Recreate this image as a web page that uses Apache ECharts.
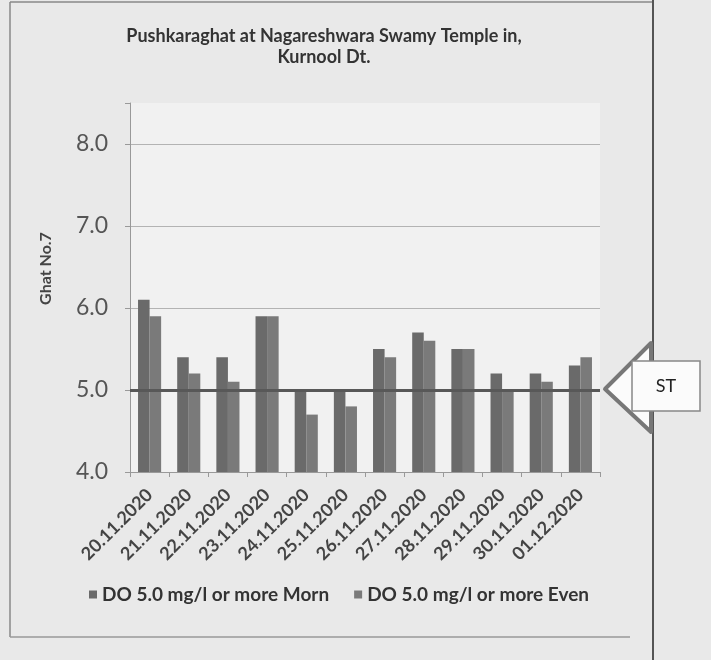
<!DOCTYPE html>
<html>
<head>
    <meta charset="utf-8">
    <title>Ghat No.7</title>
    <script src="https://cdn.jsdelivr.net/npm/echarts@6/dist/echarts.min.js"></script>
    <style>
        body { margin: 0; background: #e9e9e9; }
    </style>
</head>
<body>
    <div id="main" style="width: 711px;height:660px;"></div>
    <script type="text/javascript">
        var myChart = echarts.init(document.getElementById('main'));

        // dates of sampling
        var dates = ['20.11.2020', '21.11.2020', '22.11.2020', '23.11.2020', '24.11.2020', '25.11.2020',
            '26.11.2020', '27.11.2020', '28.11.2020', '29.11.2020', '30.11.2020', '01.12.2020'];
        // DO values (mg/l)
        var morn = [6.1, 5.4, 5.4, 5.9, 5.0, 5.0, 5.5, 5.7, 5.5, 5.2, 5.2, 5.3];
        var even = [5.9, 5.2, 5.1, 5.9, 4.7, 4.8, 5.4, 5.6, 5.5, 5.0, 5.1, 5.4];
        var stLevel = 5.0;
        var yTicks = [4, 5, 6, 7, 8];

        var font = 'Lato, "Open Sans", sans-serif';

        option = {
            backgroundColor: '#e9e9e9',
            textStyle: { fontFamily: font },
            title: {
                text: 'Pushkaraghat at Nagareshwara Swamy Temple in,\nKurnool Dt.',
                left: 319,
                top: 21,
                textAlign: 'center',
                textStyle: {
                    fontSize: 18,
                    fontWeight: 'bold',
                    color: '#333',
                    lineHeight: 21
                }
            },
            legend: {
                left: 84,
                top: 580,
                itemWidth: 8,
                itemHeight: 8,
                itemGap: 25,
                icon: 'rect',
                textStyle: { fontSize: 19, fontWeight: 'bold', color: '#333' },
                data: ['DO 5.0 mg/l or more Morn', 'DO 5.0 mg/l or more Even']
            },
            grid: {
                left: 130,
                right: 111,
                top: 103,
                bottom: 188,
                show: true,
                backgroundColor: '#f1f1f1',
                borderWidth: 0
            },
            xAxis: {
                type: 'category',
                data: dates,
                axisLine: { lineStyle: { color: '#999' } },
                axisTick: { show: true, length: 5, lineStyle: { color: '#999' } },
                axisLabel: {
                    rotate: 45,
                    interval: 0,
                    fontSize: 18,
                    fontWeight: 'bold',
                    color: '#444',
                    margin: 20
                }
            },
            yAxis: {
                type: 'value',
                min: 4,
                max: 8.5,
                interval: 1,
                name: 'Ghat No.7',
                nameLocation: 'middle',
                nameGap: 76,
                nameTextStyle: { fontSize: 16, fontWeight: 'bold', color: '#444', padding: [0, 0, 0, 38] },
                axisLine: { show: true, lineStyle: { color: '#999' } },
                axisTick: { show: true, length: 5, lineStyle: { color: '#999' } },
                axisLabel: {
                    fontSize: 23,
                    color: '#555',
                    margin: 22,
                    formatter: function (v) {
                        return yTicks.indexOf(v) >= 0 ? v.toFixed(1) : '';
                    }
                },
                splitLine: {
                    show: true,
                    showMinLine: false,
                    showMaxLine: false,
                    lineStyle: { color: '#b3b3b3', width: 1 }
                }
            },
            series: [{
                name: 'DO 5.0 mg/l or more Morn',
                type: 'bar',
                data: morn,
                barGap: '0%',
                barCategoryGap: '41%',
                itemStyle: { color: '#6a6a6a' },
                markLine: {
                    symbol: 'none',
                    silent: true,
                    label: { show: false },
                    lineStyle: { color: '#585858', width: 3, type: 'solid' },
                    data: [{ yAxis: stLevel }]
                }
            }, {
                name: 'DO 5.0 mg/l or more Even',
                type: 'bar',
                data: even,
                itemStyle: { color: '#7a7a7a' }
            }],
            graphic: [
                { type: 'line', shape: { x1: 10, y1: 2, x2: 10, y2: 637 }, style: { stroke: '#888', lineWidth: 1.5 } },
                { type: 'line', shape: { x1: 10, y1: 2, x2: 653, y2: 2 }, style: { stroke: '#888', lineWidth: 1.5 } },
                { type: 'line', shape: { x1: 10, y1: 637, x2: 630, y2: 637 }, style: { stroke: '#999', lineWidth: 1.5 } },
                { type: 'line', shape: { x1: 653, y1: 0, x2: 653, y2: 660 }, style: { stroke: '#555', lineWidth: 2 } },
                {
                    type: 'polygon',
                    shape: { points: [[605, 389], [651, 343], [651, 432]] },
                    style: { fill: '#fbfbfb', stroke: '#777', lineWidth: 4, lineJoin: 'round' }
                },
                {
                    type: 'rect',
                    shape: { x: 632, y: 361, width: 68, height: 50 },
                    style: { fill: '#fbfbfb', stroke: '#888', lineWidth: 1.5 }
                },
                {
                    type: 'text',
                    x: 666, y: 386,
                    style: {
                        text: 'ST', fill: '#222', font: '18px ' + font,
                        textAlign: 'center', textVerticalAlign: 'middle'
                    }
                }
            ]
        };

        myChart.setOption(option);
    </script>
</body>
</html>
